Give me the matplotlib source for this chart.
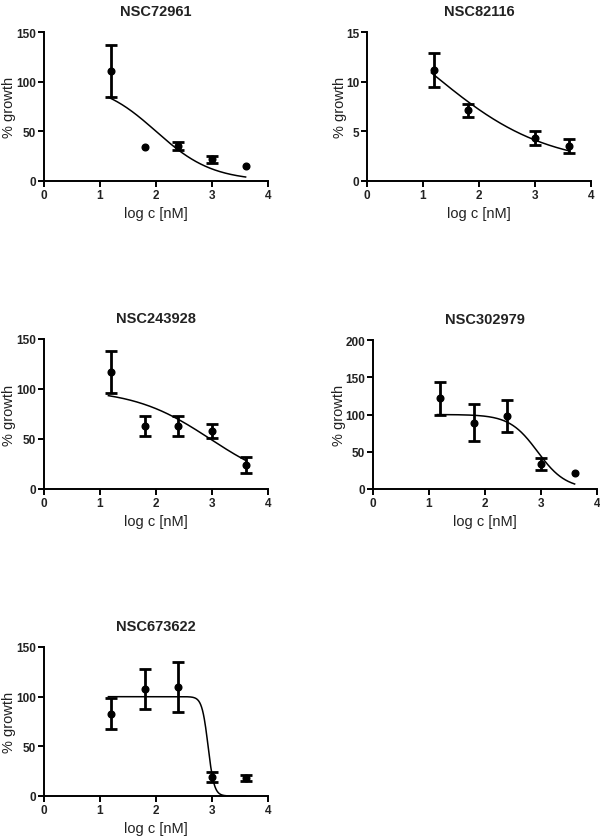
import numpy as np
import matplotlib
matplotlib.use("Agg")
import matplotlib.pyplot as plt

plt.rcParams['font.family'] = ['Liberation Sans', 'DejaVu Sans']

# compound names
names = ["NSC72961", "NSC82116", "NSC243928", "NSC302979", "NSC673622"]

# measured points (log c [nM]) with mean % growth and error (0 = no bar shown)
x_72961 = [1.2, 1.8, 2.4, 3.0, 3.6]
y_72961 = [111, 34, 35, 22, 15]
e_72961 = [26, 0, 4, 3.5, 0]

x_82116 = [1.2, 1.8, 3.0, 3.6]
y_82116 = [11.2, 7.1, 4.3, 3.5]
e_82116 = [1.7, 0.7, 0.7, 0.7]

x_243928 = [1.2, 1.8, 2.4, 3.0, 3.6]
y_243928 = [117, 63, 63, 58, 24]
e_243928 = [21, 10, 10, 7, 8]

x_302979 = [1.2, 1.8, 2.4, 3.0, 3.6]
y_302979 = [122, 89, 98, 34, 21]
e_302979 = [22, 24.5, 21, 8, 0]

x_673622 = [1.2, 1.8, 2.4, 3.0, 3.6]
y_673622 = [83, 108, 110, 19, 18]
e_673622 = [16, 20, 25, 5, 3]

# fitted dose-response parameters: bottom, top, logEC50, hill slope
fit_72961 = (0, 100, 2.0, 0.86)
fit_82116 = (1.5, 20, 1.18, 0.43)
fit_243928 = (0, 100, 2.97, 0.63)
fit_302979 = (0, 100, 2.94, 1.73)
fit_673622 = (0, 100, 2.93, 8.0)

ymax = [150, 15, 150, 200, 150]
ystep = [50, 5, 50, 50, 50]

# axes boxes in pixels: left, right, top, bottom, and x of the y label centre
boxes = [(44, 268, 33, 182, 9), (367, 591, 33, 182, 340),
         (44, 268, 340, 490, 9), (373, 597, 341, 490, 339),
         (44, 268, 648, 797, 9)]

W, H = 600, 837
fig = plt.figure(figsize=(W / 100, H / 100), dpi=100)

datasets = [(x_72961, y_72961, e_72961, fit_72961),
            (x_82116, y_82116, e_82116, fit_82116),
            (x_243928, y_243928, e_243928, fit_243928),
            (x_302979, y_302979, e_302979, fit_302979),
            (x_673622, y_673622, e_673622, fit_673622)]


def dose_response(x, bottom, top, logec50, hill):
    return bottom + (top - bottom) / (1 + 10 ** ((x - logec50) * hill))


for i, (xs, ys, es, fit) in enumerate(datasets):
    l, r, t, b, ylx = boxes[i]
    ax = fig.add_axes([l / W, 1 - b / H, (r - l) / W, (b - t) / H])

    xc = np.linspace(1.15, 3.6, 300)
    ax.plot(xc, dose_response(xc, *fit), color='black', lw=1.1)

    xs, ys, es = np.array(xs), np.array(ys), np.array(es)
    has_err = es > 0
    ax.errorbar(xs[has_err], ys[has_err], yerr=es[has_err], fmt='none',
                ecolor='black', elinewidth=2, capsize=4, capthick=2, clip_on=False)
    ax.plot(xs, ys, 'o', color='black', ms=4.8, clip_on=False)

    ax.set_xlim(0, 4)
    ax.set_ylim(0, ymax[i])
    ax.set_xticks([0, 1, 2, 3, 4])
    ax.set_yticks(np.arange(0, ymax[i] + 1, ystep[i]))
    for side in ['top', 'right']:
        ax.spines[side].set_visible(False)
    for side in ['left', 'bottom']:
        ax.spines[side].set_linewidth(1.4)
    ax.tick_params(direction='out', length=4, width=1.4, labelsize=8.5, pad=1.5)
    for lab in ax.get_xticklabels() + ax.get_yticklabels():
        lab.set_fontweight('bold')
        lab.set_color('#222222')

    ax.set_title(names[i], fontsize=10.5, fontweight='bold', pad=12, color='#222222')
    ax.set_xlabel('log c [nM]', fontsize=10.5, labelpad=4, color='#222222')
    ax.set_ylabel('% growth', fontsize=10.5, color='#222222', va='center')
    ax.yaxis.set_label_coords((ylx - l) / (r - l), 0.5)

fig.savefig('out.png', dpi=100)
